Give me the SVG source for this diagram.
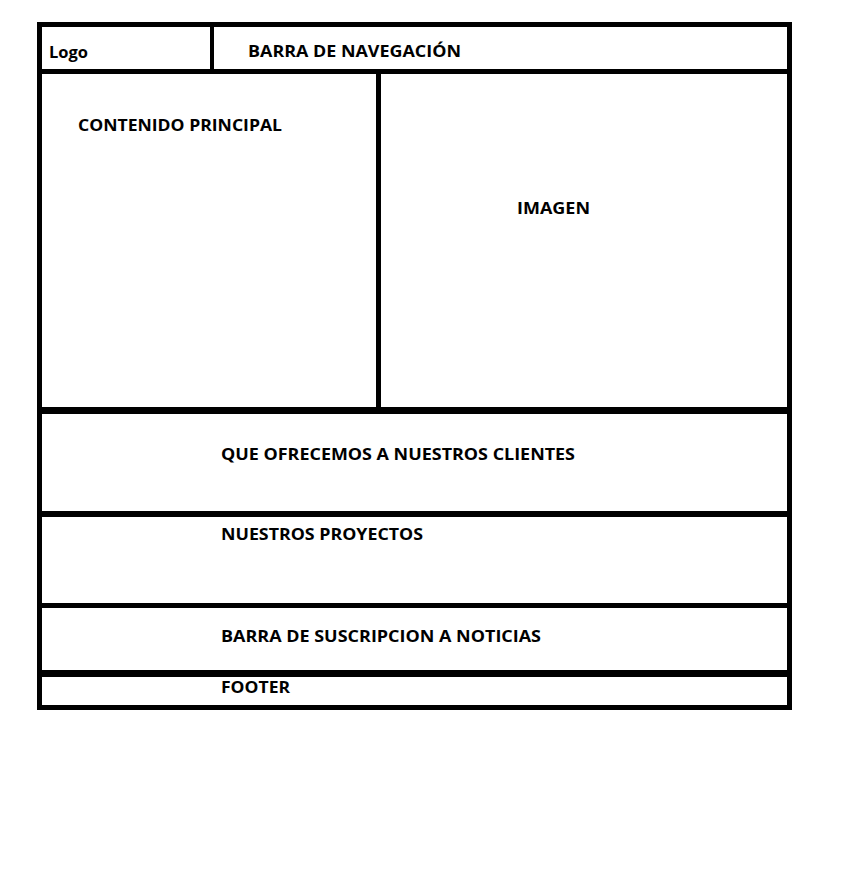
<svg xmlns="http://www.w3.org/2000/svg" width="852" height="886" viewBox="0 0 852 886">
<style>
.ln{fill:#000}
.t{font-family:"Open Sans","Liberation Sans",sans-serif;font-weight:bold;font-size:16.5px;fill:#000}
</style>
<rect width="852" height="886" fill="#fff"/>
<g id="frame">
<rect class="ln" x="37" y="22" width="755" height="5"/>
<rect class="ln" x="37" y="22" width="5" height="688"/>
<rect class="ln" x="787" y="22" width="5" height="688"/>
<rect class="ln" x="37" y="705" width="755" height="5"/>
<rect class="ln" x="37" y="69" width="755" height="5"/>
<rect class="ln" x="210" y="22" width="4" height="52"/>
<rect class="ln" x="376" y="69" width="5" height="345"/>
<rect class="ln" x="37" y="407" width="755" height="7"/>
<rect class="ln" x="37" y="511" width="755" height="6"/>
<rect class="ln" x="37" y="603" width="755" height="5"/>
<rect class="ln" x="37" y="670" width="755" height="7"/>
</g>
<g id="logo"><text class="t" x="49" y="58" textLength="39" lengthAdjust="spacingAndGlyphs">Logo</text></g>
<g id="nav"><text class="t" x="248" y="57" textLength="213" lengthAdjust="spacingAndGlyphs">BARRA DE NAVEGACIÓN</text></g>
<g id="contenido"><text class="t" x="78" y="131" textLength="204" lengthAdjust="spacingAndGlyphs">CONTENIDO PRINCIPAL</text></g>
<g id="imagen"><text class="t" x="517" y="214" textLength="73" lengthAdjust="spacingAndGlyphs">IMAGEN</text></g>
<g id="ofrecemos"><text class="t" x="221" y="460" textLength="354" lengthAdjust="spacingAndGlyphs">QUE OFRECEMOS A NUESTROS CLIENTES</text></g>
<g id="proyectos"><text class="t" x="221" y="540" textLength="202" lengthAdjust="spacingAndGlyphs">NUESTROS PROYECTOS</text></g>
<g id="suscripcion"><text class="t" x="221" y="642" textLength="320" lengthAdjust="spacingAndGlyphs">BARRA DE SUSCRIPCION A NOTICIAS</text></g>
<g id="footer"><text class="t" x="221" y="693" textLength="69" lengthAdjust="spacingAndGlyphs">FOOTER</text></g>
<g id="connectors"/>
</svg>
